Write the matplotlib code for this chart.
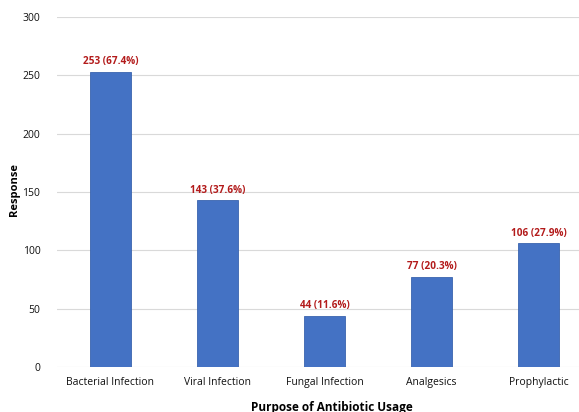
import matplotlib
matplotlib.use("Agg")
import matplotlib.pyplot as plt

categories = ["Bacterial Infection", "Viral Infection", "Fungal Infection", "Analgesics", "Prophylactic"]
values = [253, 143, 44, 77, 106]
pct_labels = ["253 (67.4%)", "143 (37.6%)", "44 (11.6%)", "77 (20.3%)", "106 (27.9%)"]
yticks = [0, 50, 100, 150, 200, 250, 300]

plt.rcParams['font.family'] = ['Open Sans', 'DejaVu Sans']

W, H = 579, 412
fig = plt.figure(figsize=(W/100, H/100), dpi=100)
left, right = 57, 592
bottom, top = 367, 17
ax = fig.add_axes([left/W, 1 - bottom/H, (right-left)/W, (bottom-top)/H])

x = list(range(len(categories)))
ax.bar(x, values, width=0.39, color="#4472C4", edgecolor="#3A64AE", linewidth=0.6, zorder=3)
for xi, v, lab in zip(x, values, pct_labels):
    ax.text(xi, v + 4, lab, ha="center", va="bottom", color="#B31B1B", fontsize=7.2, fontweight="bold", zorder=4)

ax.set_xlim(-0.5, 4.5)
ax.set_ylim(0, 300)
ax.set_yticks(yticks)
ax.set_xticks(x)
ax.set_xticklabels(categories, fontsize=7.5, color="#111111")
ax.tick_params(axis="y", labelsize=7.5, colors="#111111", length=0, pad=12)
ax.tick_params(axis="x", length=0, pad=7)
ax.grid(axis="y", color="#D9D9D9", linewidth=0.8, zorder=0)
for s in ax.spines.values():
    s.set_visible(False)

fig.text(15/W, 1 - 190/H, "Response", rotation=90, ha="center", va="center", fontsize=8, fontweight="bold")
fig.text(332/W, 1 - 407/H, "Purpose of Antibiotic Usage", ha="center", va="center", fontsize=8.5, fontweight="bold")

fig.savefig("out.png", dpi=100)
